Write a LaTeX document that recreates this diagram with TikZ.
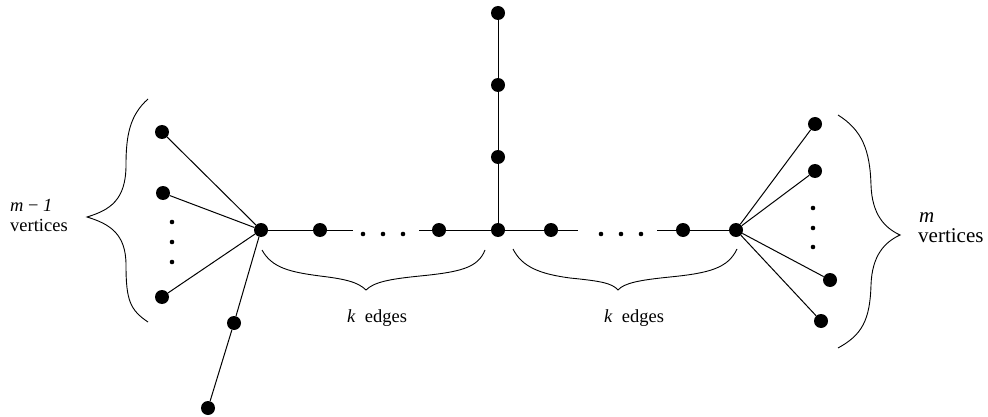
\documentclass[tikz,border=0pt]{standalone}
\usepackage{fontspec}
\setmainfont{Liberation Serif}
\begin{document}
\begin{tikzpicture}[x=1pt,y=-1pt,
  vtx/.style={circle,fill=black,inner sep=0pt,minimum size=14pt},
  sdot/.style={circle,fill=black,inner sep=0pt,minimum size=4.6pt},
  edge/.style={line width=1pt},
  brace/.style={line width=0.9pt},
  lbl/.style={inner sep=0pt,anchor=base west,font=\fontsize{18.5}{20}\selectfont},
  lblr/.style={inner sep=0pt,anchor=base west,font=\fontsize{21}{20}\selectfont}]
\useasboundingbox (0,0) rectangle (988,417);
% vertices
\node[vtx] (L) at (261,230) {};
\node[vtx] (C) at (498,230) {};
\node[vtx] (R) at (736,230) {};
\node[vtx] (a1) at (320,230) {};
\node[vtx] (a2) at (439,230) {};
\node[vtx] (b1) at (551,230) {};
\node[vtx] (b2) at (683,230) {};
\node[vtx] (v1) at (498,157) {};
\node[vtx] (v2) at (498,85) {};
\node[vtx] (v3) at (498,13) {};
\node[vtx] (l1) at (162,132) {};
\node[vtx] (l2) at (163,193) {};
\node[vtx] (l3) at (162,297) {};
\node[vtx] (p1) at (234,323) {};
\node[vtx] (p2) at (208,408) {};
\node[vtx] (r1) at (815,124) {};
\node[vtx] (r2) at (815,171) {};
\node[vtx] (r3) at (830,280) {};
\node[vtx] (r4) at (821,321) {};
\coordinate (sa) at (353,230);
\coordinate (sb) at (419,230);
\coordinate (sc) at (578,230);
\coordinate (sd) at (657,230);
% small dots
\node[sdot] (d1) at (172,222) {};
\node[sdot] (d2) at (172,242) {};
\node[sdot] (d3) at (172,262) {};
\node[sdot] (e1) at (363,234) {};
\node[sdot] (e2) at (383,234) {};
\node[sdot] (e3) at (403,234) {};
\node[sdot] (f1) at (601,234) {};
\node[sdot] (f2) at (621,234) {};
\node[sdot] (f3) at (641,234) {};
\node[sdot] (g1) at (813,208) {};
\node[sdot] (g2) at (813,228) {};
\node[sdot] (g3) at (813,247) {};
% edges
\draw[edge] (L) -- (a1) -- (sa);
\draw[edge] (sb) -- (a2) -- (C) -- (b1) -- (sc);
\draw[edge] (sd) -- (b2) -- (R);
\draw[edge] (C) -- (v1) -- (v2) -- (v3);
\draw[edge] (L) -- (l1);
\draw[edge] (L) -- (l2);
\draw[edge] (L) -- (l3);
\draw[edge] (L) -- (p1) -- (p2);
\draw[edge] (R) -- (r1);
\draw[edge] (R) -- (r2);
\draw[edge] (R) -- (r3);
\draw[edge] (R) -- (r4);
% braces
\draw[brace] (148,99) .. controls (130,115) and (126,135) .. (126,165) .. controls (126,200) and (110,210) .. (87,217) .. controls (110,224) and (126,234) .. (126,265) .. controls (126,300) and (130,310) .. (148,322);
\draw[brace] (838,115) .. controls (862,130) and (870,150) .. (871,185) .. controls (872,215) and (885,228) .. (900,235) .. controls (885,242) and (872,255) .. (871,285) .. controls (870,320) and (862,335) .. (838,348);
\draw[brace] (262,250) .. controls (272,268) and (290,272) .. (320,276) .. controls (345,279) and (358,282) .. (366,290) .. controls (374,282) and (390,279) .. (420,276) .. controls (460,272) and (478,268) .. (485,250);
\draw[brace] (513,249) .. controls (522,267) and (540,274) .. (570,278) .. controls (600,281) and (612,283) .. (618,290) .. controls (624,283) and (640,280) .. (670,277) .. controls (710,273) and (728,268) .. (737,249);
% labels
\node[lbl] (tl1) at (10,211) {\textit{m} − \textit{1}};
\node[lbl] (tl2) at (10,231) {vertices};
\node[lblr] (tr1) at (919,222) {\textit{m}};
\node[lblr] (tr2) at (918,242) {vertices};
\node[lbl] (k1) at (347,322) {\textit{k}\ \ edges};
\node[lbl] (k2) at (604,322) {\textit{k}\ \ edges};
\end{tikzpicture}
\end{document}
